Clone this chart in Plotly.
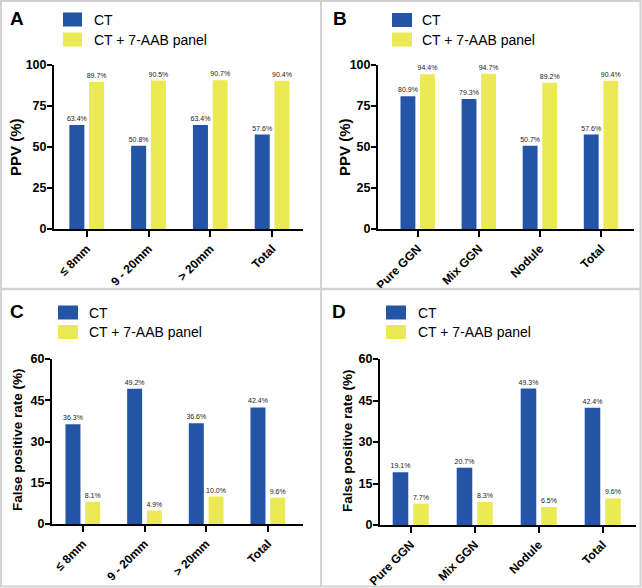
import plotly.graph_objects as go

W, H = 642, 588

# ---------------- data ----------------
size_cats = ["≤ 8mm", "9 - 20mm", "> 20mm", "Total"]
type_cats = ["Pure GGN", "Mix GGN", "Nodule", "Total"]

ppv_size_ct = [63.4, 50.8, 63.4, 57.6]
ppv_size_combo = [89.7, 90.5, 90.7, 90.4]
ppv_type_ct = [80.9, 79.3, 50.7, 57.6]
ppv_type_combo = [94.4, 94.7, 89.2, 90.4]
fpr_size_ct = [36.3, 49.2, 36.6, 42.4]
fpr_size_combo = [8.1, 4.9, 10.0, 9.6]
fpr_type_ct = [19.1, 20.7, 49.3, 42.4]
fpr_type_combo = [7.7, 8.3, 6.5, 9.6]

series_names = ["CT", "CT + 7-AAB panel"]
ppv_ticks = [0, 25, 50, 75, 100]
fpr_ticks = [0, 15, 30, 45, 60]

BLUE = "#2454a6"
YELLOW = "#ebe956"
FONT = "Liberation Sans, Arial, Helvetica, sans-serif"


def px_x(x):
    return x / W


def px_y(y):
    return 1 - y / H


panels = [
    dict(k="", cats=size_cats, ct=ppv_size_ct, combo=ppv_size_combo, yt="PPV (%)",
         ticks=ppv_ticks, yr=[0, 100], xd=(54, 303), yd=(65, 229), xr=[-0.53, 3.5], ts=15,
         tpos=(15, 147), letter="A", lpos=(17, 18), leg=(63, 82, 19.5, 39.5, 92)),
    dict(k="2", cats=type_cats, ct=ppv_type_ct, combo=ppv_type_combo, yt="PPV (%)",
         ticks=ppv_ticks, yr=[0, 100], xd=(378, 634), yd=(65, 229), xr=[-0.65, 3.54], ts=15,
         tpos=(344, 147), letter="B", lpos=(340, 18), leg=(392, 412, 20, 39.5, 420)),
    dict(k="3", cats=size_cats, ct=fpr_size_ct, combo=fpr_size_combo, yt="False positive rate (%)",
         ticks=fpr_ticks, yr=[0, 60], xd=(52, 303), yd=(359, 524), xr=[-0.5, 3.57], ts=13.5,
         tpos=(17, 440), letter="C", lpos=(17, 311), leg=(58, 78, 312.5, 332, 87)),
    dict(k="4", cats=type_cats, ct=fpr_type_ct, combo=fpr_type_combo, yt="False positive rate (%)",
         ticks=fpr_ticks, yr=[0, 60], xd=(380, 636), yd=(359, 525), xr=[-0.48, 3.52], ts=13.5,
         tpos=(347, 441), letter="D", lpos=(339, 311), leg=(386, 406, 312.5, 332, 416)),
]

fig = go.Figure()
shapes = []
annotations = []
layout = {}

for p in panels:
    k = p["k"]
    for name, vals, col in [(series_names[0], p["ct"], BLUE), (series_names[1], p["combo"], YELLOW)]:
        fig.add_trace(go.Bar(
            x=p["cats"], y=vals, name=name, marker=dict(color=col, line=dict(width=0)),
            xaxis="x" + k, yaxis="y" + k, showlegend=False,
            texttemplate="%{y:.1f}%", textposition="outside", constraintext="none",
            cliponaxis=False, textfont=dict(size=7, color="#222", family=FONT),
            hoverinfo="x+y",
        ))
    layout["xaxis" + k] = dict(
        domain=[px_x(p["xd"][0]), px_x(p["xd"][1])], anchor="y" + k, automargin=False,
        range=p["xr"], showline=True, linecolor="black", linewidth=2,
        ticks="outside", ticklen=6, tickwidth=2, tickcolor="black",
        tickangle=-45, tickfont=dict(size=12, family=FONT, color="black", weight="bold"),
        showgrid=False, zeroline=False, fixedrange=True,
    )
    layout["yaxis" + k] = dict(
        domain=[px_y(p["yd"][1]), px_y(p["yd"][0])], anchor="x" + k, automargin=False,
        range=p["yr"], tickvals=p["ticks"], showline=True, linecolor="black", linewidth=2,
        ticks="outside", ticklen=5, tickwidth=2, tickcolor="black", ticklabelstandoff=-2,
        tickfont=dict(size=12.5, family=FONT, color="black", weight="bold"),
        showgrid=False, zeroline=False, fixedrange=True,
    )
    # y-axis title as a rotated text placed next to the axis
    annotations.append(dict(
        text=p["yt"], x=px_x(p["tpos"][0]), y=px_y(p["tpos"][1]), xref="paper", yref="paper",
        showarrow=False, textangle=-90, xanchor="center", yanchor="middle",
        font=dict(size=p["ts"], family=FONT, color="black", weight="bold")))
    annotations.append(dict(
        text=p["letter"], x=px_x(p["lpos"][0]), y=px_y(p["lpos"][1]), xref="paper", yref="paper",
        showarrow=False, font=dict(size=19, family=FONT, color="black", weight="bold"),
        xanchor="center", yanchor="middle"))
    x0, x1, r1, r2, tx = p["leg"]
    for (rc, name, col) in [(r1, series_names[0], BLUE), (r2, series_names[1], YELLOW)]:
        shapes.append(dict(type="rect", xref="paper", yref="paper",
                           x0=px_x(x0), x1=px_x(x1), y0=px_y(rc + 7), y1=px_y(rc - 7),
                           fillcolor=col, line=dict(width=0)))
        annotations.append(dict(
            text=name, x=px_x(tx), y=px_y(rc), xref="paper", yref="paper", showarrow=False,
            font=dict(size=14, family=FONT, color="black"), xanchor="left", yanchor="middle"))

BORDER = "#d2d2d2"
shapes += [
    dict(type="rect", xref="paper", yref="paper", x0=px_x(1), x1=px_x(640.5), y0=px_y(586.5), y1=px_y(1),
         line=dict(color=BORDER, width=2)),
    dict(type="line", xref="paper", yref="paper", x0=px_x(321), x1=px_x(321), y0=px_y(586.5), y1=px_y(1),
         line=dict(color=BORDER, width=2)),
    dict(type="line", xref="paper", yref="paper", x0=px_x(1), x1=px_x(640.5), y0=px_y(289), y1=px_y(289),
         line=dict(color=BORDER, width=2.5)),
]

fig.update_layout(
    width=W, height=H, margin=dict(l=0, r=0, t=0, b=0),
    paper_bgcolor="white", plot_bgcolor="white",
    barmode="group", bargap=0.36, bargroupgap=0.24,
    font=dict(family=FONT, color="black"),
    shapes=shapes, annotations=annotations, showlegend=False,
    **layout,
)

fig.write_html("out.html", config={"displayModeBar": False})

with open("out.html", "r", encoding="utf-8") as f:
    html = f.read()
html = html.replace("<head>", "<head><style>html,body{margin:0;padding:0;overflow:hidden;}</style>", 1)
with open("out.html", "w", encoding="utf-8") as f:
    f.write(html)
